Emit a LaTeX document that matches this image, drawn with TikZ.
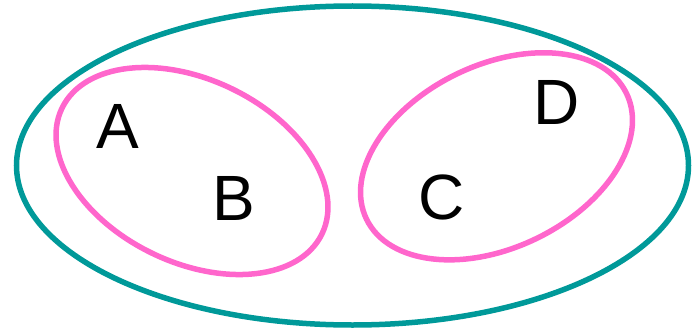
\documentclass[tikz,border=0pt]{standalone}
\usepackage{fontspec}
\setmainfont{Liberation Sans}
\usepackage{tikz}
\definecolor{tealc}{HTML}{009999}
\definecolor{pinkc}{HTML}{FF66CC}

\begin{document}
\begin{tikzpicture}[x=1pt, y=-1pt, line width=5.5pt,
    letter/.style={inner sep=0pt, font=\fontsize{64}{64}\selectfont}]
  \useasboundingbox (0,0) rectangle (696,329);
  % outer set
  \draw[tealc] (352.5,165.5) ellipse [x radius=336, y radius=159.5];
  % the two inner sets
  \draw[pinkc, rotate around={-25.8:(192,171)}]
    (192,171) ellipse [x radius=144.4, y radius=91.4];
  \draw[pinkc, rotate around={25.8:(496.5,156.3)}]
    (496.5,156.3) ellipse [x radius=144.4, y radius=91.4];
  % elements
  \node[letter] (a) at (118,126) {A};
  \node[letter] (b) at (234,198.5) {B};
  \node[letter] (c) at (442,197.5) {C};
  \node[letter] (d) at (556.5,102) {D};
\end{tikzpicture}
\end{document}
